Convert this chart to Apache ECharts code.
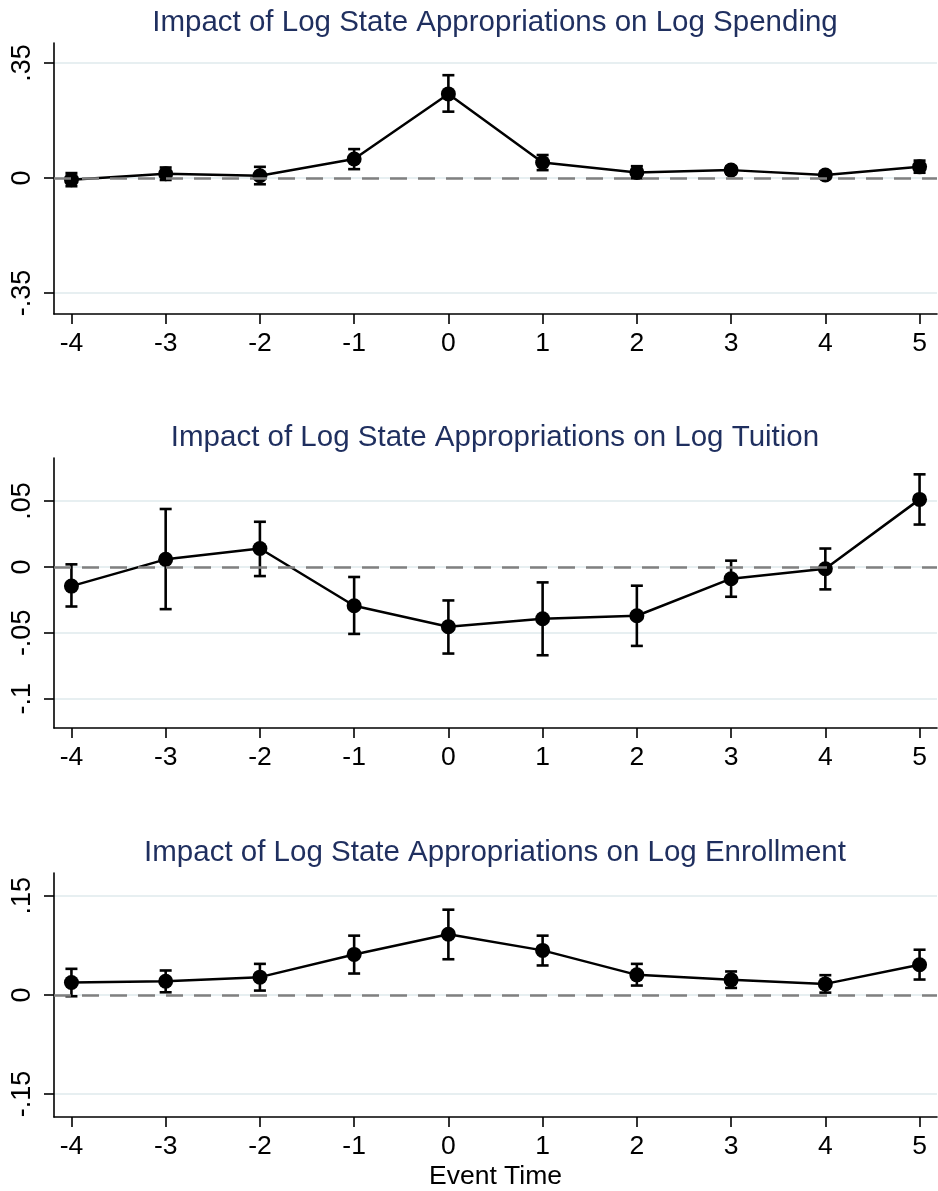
<!DOCTYPE html>
<html>
<head>
<meta charset="utf-8">
<script src="https://cdn.jsdelivr.net/npm/echarts@6/dist/echarts.min.js"></script>
<style>
html,body{margin:0;padding:0;background:#fff;}
#chart{width:938px;height:1191px;}
</style>
</head>
<body>
<div id="chart"></div>
<script>
// ---- data ----
const eventTime = [-4, -3, -2, -1, 0, 1, 2, 3, 4, 5];

const panelTitles = [
  'Impact of Log State Appropriations on Log Spending',
  'Impact of Log State Appropriations on Log Tuition',
  'Impact of Log State Appropriations on Log Enrollment'
];

const spendCoef = [-0.005, 0.013, 0.007, 0.058, 0.256, 0.047, 0.017, 0.024, 0.009, 0.034];
const spendLo   = [-0.025, -0.006, -0.019, 0.027, 0.202, 0.024, -0.001, 0.013, -0.002, 0.016];
const spendHi   = [0.015, 0.032, 0.034, 0.088, 0.313, 0.070, 0.036, 0.035, 0.020, 0.053];

const tuitionCoef = [-0.0145, 0.0058, 0.0140, -0.0294, -0.0454, -0.0393, -0.0370, -0.0089, -0.0013, 0.0513];
const tuitionLo   = [-0.0300, -0.0320, -0.0069, -0.0508, -0.0657, -0.0670, -0.0599, -0.0226, -0.0170, 0.0322];
const tuitionHi   = [0.0020, 0.0440, 0.0343, -0.0076, -0.0254, -0.0117, -0.0142, 0.0048, 0.0140, 0.0703];

const enrollCoef = [0.0188, 0.0208, 0.0269, 0.0613, 0.0918, 0.0674, 0.0304, 0.0228, 0.0167, 0.0456];
const enrollLo   = [-0.0020, 0.0040, 0.0066, 0.0324, 0.0540, 0.0446, 0.0142, 0.0106, 0.0035, 0.0233];
const enrollHi   = [0.0395, 0.0370, 0.0470, 0.0897, 0.1290, 0.0897, 0.0470, 0.0355, 0.0299, 0.0684];

const spendTicks   = [-0.35, 0, 0.35];
const tuitionTicks = [-0.1, -0.05, 0, 0.05];
const enrollTicks  = [-0.15, 0, 0.15];

const xAxisName = 'Event Time';

// ---- chart ----
const FONT = "'Liberation Sans', Arial, Helvetica, sans-serif";
const panels = [
  {coef: spendCoef, lo: spendLo, hi: spendHi, ticks: spendTicks, ymin: -0.414, ymax: 0.411, top: 43, height: 271, titleY: 23},
  {coef: tuitionCoef, lo: tuitionLo, hi: tuitionHi, ticks: tuitionTicks, ymin: -0.1222, ymax: 0.0827, top: 458, height: 270, titleY: 438},
  {coef: enrollCoef, lo: enrollLo, hi: enrollHi, ticks: enrollTicks, ymin: -0.1847, ymax: 0.1845, top: 873, height: 244, titleY: 853}
];

function fmt(v) {
  if (v === 0) return '0';
  return String(+v.toFixed(4)).replace('0.', '.');
}

const option = {
  animation: false,
  backgroundColor: '#ffffff',
  title: [],
  grid: [],
  xAxis: [],
  yAxis: [],
  series: []
};

const TITLE_FS = 29.5;
panels.forEach((p, i) => {
  option.title.push({
    text: panelTitles[i],
    left: 495,
    top: p.titleY - TITLE_FS / 2,
    textAlign: 'center',
    padding: 0,
    textStyle: {fontFamily: FONT, fontSize: TITLE_FS, fontWeight: 'normal', color: '#1f2f5f', lineHeight: TITLE_FS}
  });
  option.grid.push({left: 54, right: 1, top: p.top, height: p.height, containLabel: false});
  option.xAxis.push({
    type: 'value', gridIndex: i, min: -4.185, max: 5.185,
    name: i === 2 ? xAxisName : '',
    nameLocation: 'middle', nameGap: 46,
    nameTextStyle: {fontFamily: FONT, fontSize: 26.5, color: '#000'},
    axisLine: {show: true, onZero: false, lineStyle: {color: '#000', width: 1.6}},
    axisTick: {show: true, inside: false, length: 10, lineStyle: {color: '#000', width: 1.6}, customValues: eventTime},
    axisLabel: {show: true, margin: 16, fontFamily: FONT, fontSize: 26.5, color: '#000', customValues: eventTime,
                formatter: v => String(v)},
    splitLine: {show: false}
  });
  option.yAxis.push({
    type: 'value', gridIndex: i, min: p.ymin, max: p.ymax,
    axisLine: {show: true, onZero: false, lineStyle: {color: '#000', width: 1.6}},
    axisTick: {show: true, inside: false, length: 10, lineStyle: {color: '#000', width: 1.6}, customValues: p.ticks},
    axisLabel: {show: true, rotate: 90, margin: 18, fontFamily: FONT, fontSize: 27, color: '#000', customValues: p.ticks,
                formatter: fmt},
    splitLine: {show: true, lineStyle: {color: '#e7eff1', width: 2.2}}
  });
  const ebData = eventTime.map((t, k) => [t, p.lo[k], p.hi[k]]);
  option.series.push({
    type: 'custom', xAxisIndex: i, yAxisIndex: i, z: 3,
    data: ebData,
    encode: {x: 0, y: [1, 2]},
    renderItem: function (params, api) {
      const x = api.value(0);
      const a = api.coord([x, api.value(1)]);
      const b = api.coord([x, api.value(2)]);
      const w = 6;
      const style = {stroke: '#000', lineWidth: 2.6, fill: null};
      return {
        type: 'group',
        children: [
          {type: 'line', shape: {x1: a[0], y1: a[1], x2: b[0], y2: b[1]}, style: style},
          {type: 'line', shape: {x1: a[0] - w, y1: a[1], x2: a[0] + w, y2: a[1]}, style: style},
          {type: 'line', shape: {x1: b[0] - w, y1: b[1], x2: b[0] + w, y2: b[1]}, style: style}
        ]
      };
    },
    markLine: {
      silent: true, symbol: ['none', 'none'], label: {show: false},
      lineStyle: {color: '#808080', width: 2.6, type: [17, 11]},
      data: [{yAxis: 0}]
    }
  });
  option.series.push({
    type: 'line', xAxisIndex: i, yAxisIndex: i, z: 4,
    data: eventTime.map((t, k) => [t, p.coef[k]]),
    symbol: 'circle', symbolSize: 15, showSymbol: true,
    lineStyle: {color: '#000', width: 2.5},
    itemStyle: {color: '#000'}
  });
});

const chart = echarts.init(document.getElementById('chart'), null, {renderer: 'canvas'});
chart.setOption(option);
</script>
</body>
</html>
